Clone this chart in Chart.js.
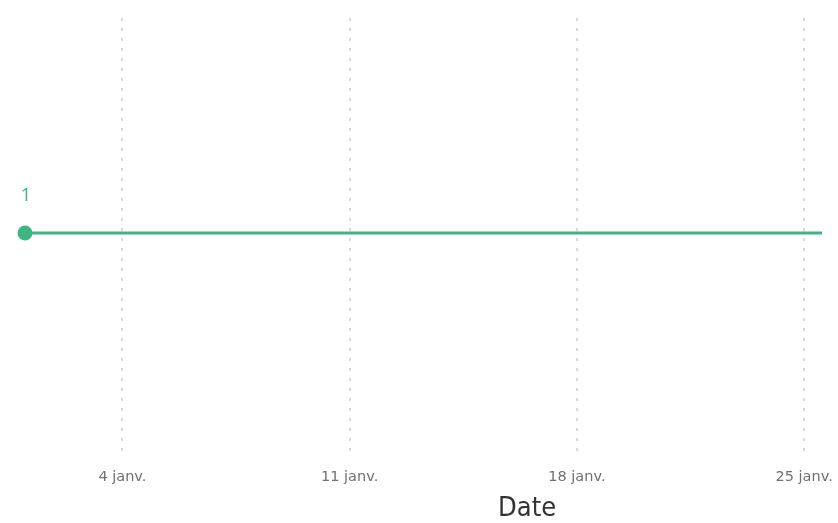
<!DOCTYPE html>
<html>
<head>
<meta charset="utf-8">
<script src="https://cdn.jsdelivr.net/npm/chart.js@4/dist/chart.umd.min.js"></script>
<style>
  html, body { margin: 0; padding: 0; background: #ffffff; }
  #wrap { width: 838px; height: 523px; }
</style>
</head>
<body>
<div id="wrap"><canvas id="c" width="838" height="523"></canvas></div>
<script>
// Days of January (day number) and the count for each day
const days = [1,2,3,4,5,6,7,8,9,10,11,12,13,14,15,16,17,18,19,20,21,22,23,24,25,26];
const counts = [1,1,1,1,1,1,1,1,1,1,1,1,1,1,1,1,1,1,1,1,1,1,1,1,1,1];
// Axis ticks
const tickDays = [4, 11, 18, 25];
const tickLabels = ['4 janv.', '11 janv.', '18 janv.', '25 janv.'];
const axisTitle = 'Date';

const green = '#3fb681';

const extras = {
  id: 'extras',
  afterDatasetsDraw(chart) {
    const meta = chart.getDatasetMeta(0);
    const p = meta.data[0];
    const ctx = chart.ctx;
    const a = chart.chartArea;
    ctx.save();
    // value label on first point
    ctx.fillStyle = green;
    ctx.font = '19px "Open Sans", sans-serif';
    ctx.textAlign = 'center';
    ctx.textBaseline = 'middle';
    ctx.fillText(String(counts[0]), p.x + 1, p.y - 37);
    // axis title
    ctx.fillStyle = '#333333';
    ctx.font = '27px "DejaVu Sans Condensed", "DejaVu Sans", sans-serif';
    ctx.fillText(axisTitle, a.left + (a.right - a.left) * 0.63, a.bottom + 54);
    ctx.restore();
  }
};

new Chart(document.getElementById('c'), {
  type: 'line',
  data: {
    datasets: [{
      data: days.map((d, i) => ({ x: d, y: counts[i] })),
      borderColor: green,
      backgroundColor: green,
      borderWidth: 3,
      pointRadius: ctx => ctx.dataIndex === 0 ? 7.5 : 0,
      pointHoverRadius: 0,
      pointBorderWidth: 0,
      tension: 0,
      clip: { left: false, top: false, right: 0, bottom: false }
    }]
  },
  options: {
    responsive: false,
    animation: false,
    events: [],
    layout: { padding: { left: 25, right: 16, top: 18, bottom: 23 } },
    plugins: { legend: { display: false }, tooltip: { enabled: false } },
    scales: {
      x: {
        type: 'linear',
        min: 1,
        max: 25.55,
        afterBuildTicks(scale) { scale.ticks = tickDays.map(v => ({ value: v })); },
        afterFit(scale) { scale.paddingRight = 0; },
        ticks: {
          autoSkip: false,
          maxRotation: 0,
          padding: 14,
          color: '#707070',
          font: { family: '"DejaVu Sans", sans-serif', size: 14.5 },
          callback: (v) => tickLabels[tickDays.indexOf(v)]
        },
        grid: {
          drawTicks: false,
          color: '#d8d8d8',
          lineWidth: 2
        },
        border: { display: false, dash: [3, 7] }
      },
      y: {
        display: false,
        min: 0,
        max: 1.97
      }
    }
  },
  plugins: [extras]
});
</script>
</body>
</html>
